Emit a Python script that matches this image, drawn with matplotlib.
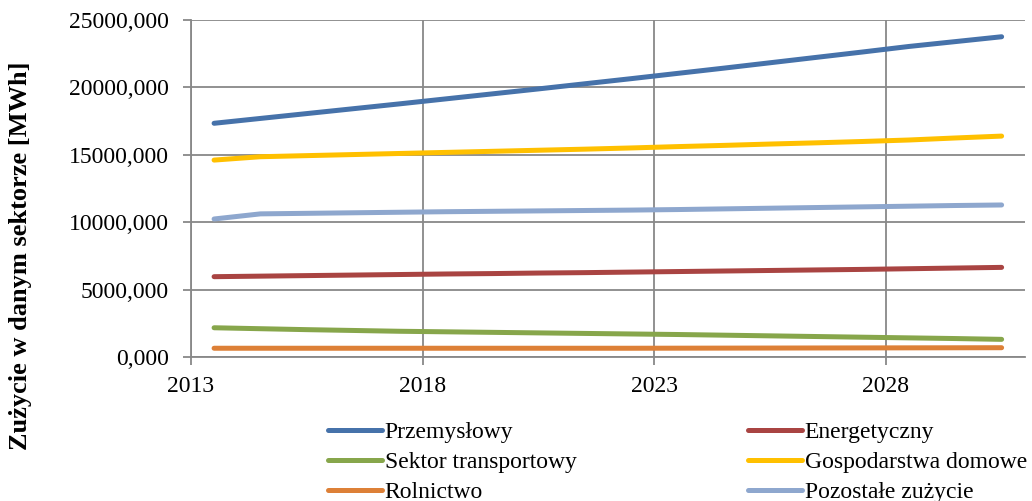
import matplotlib.pyplot as plt
import numpy as np

years = list(range(2013, 2031))
tick_labels = ["2013", "2018", "2023", "2028"]

przemyslowy = [17340, 17700, 18060, 18420, 18780, 19150, 19520, 19890, 20270, 20650,
               21040, 21430, 21830, 22230, 22630, 23040, 23400, 23760]
energetyczny = [5960, 6000, 6040, 6080, 6120, 6160, 6190, 6230, 6260, 6300,
                6340, 6380, 6420, 6460, 6500, 6550, 6600, 6650]
transportowy = [2170, 2100, 2030, 1970, 1910, 1870, 1830, 1790, 1750, 1710,
                1670, 1620, 1570, 1520, 1470, 1420, 1370, 1310]
gospodarstwa = [14610, 14860, 14940, 15020, 15100, 15180, 15260, 15340, 15420, 15510,
                15610, 15700, 15800, 15890, 15990, 16100, 16250, 16390]
rolnictwo = [650, 650, 650, 650, 650, 650, 650, 650, 650, 650,
             655, 660, 665, 670, 675, 680, 685, 690]
pozostale = [10240, 10620, 10660, 10700, 10740, 10780, 10810, 10840, 10870, 10900,
             10940, 10990, 11040, 11090, 11140, 11190, 11240, 11280]

plt.rcParams['font.family'] = ['Liberation Serif', 'DejaVu Serif']

fig = plt.figure(figsize=(10.32, 5.01), dpi=100)
ax = fig.add_axes([0.185, 0.2874, 0.808, 0.6726])

x = np.arange(len(years)) + 0.5
series = [
    ("Przemysłowy", przemyslowy, "#4672AA"),
    ("Sektor transportowy", transportowy, "#87A64B"),
    ("Rolnictwo", rolnictwo, "#DD8037"),
    ("Energetyczny", energetyczny, "#A94442"),
    ("Gospodarstwa domowe", gospodarstwa, "#FFC000"),
    ("Pozostałe zużycie", pozostale, "#8EA7CE"),
]
for name, vals, col in series:
    ax.plot(x, vals, color=col, lw=3.6, solid_capstyle='round', label=name)

ax.set_xlim(0, len(years))
ax.set_ylim(0, 25000)
ax.set_xticks([0, 5, 10, 15])
ax.set_xticklabels(tick_labels)
ax.set_yticks(np.arange(0, 25001, 5000))
ax.set_yticklabels([f"{v},000" for v in range(0, 25001, 5000)])

ax.grid(True, color="#888888", lw=1.3)
ax.set_axisbelow(True)
for s in ["top", "right"]:
    ax.spines[s].set_visible(False)
for s in ["left", "bottom"]:
    ax.spines[s].set_color("#888888")
    ax.spines[s].set_linewidth(1.3)
ax.tick_params(axis='both', colors="#888888", length=6, width=1.3, labelsize=17,
               labelcolor="black")
ax.tick_params(axis='x', pad=8)
ax.tick_params(axis='y', pad=10)

# y label centred on the whole figure height, like the original
fig.text(0.02, 0.49, "Zużycie w danym sektorze [MWh]", rotation=90, fontsize=19,
         fontweight='bold', ha='center', va='center')

fig.legend(loc='upper left', bbox_to_anchor=(0.318, 0.158), ncol=2, frameon=False,
           fontsize=17, handlelength=2.3, handletextpad=0.1, columnspacing=7.25,
           labelspacing=0.35, borderpad=0, borderaxespad=0)

fig.savefig("out.png", dpi=100)
